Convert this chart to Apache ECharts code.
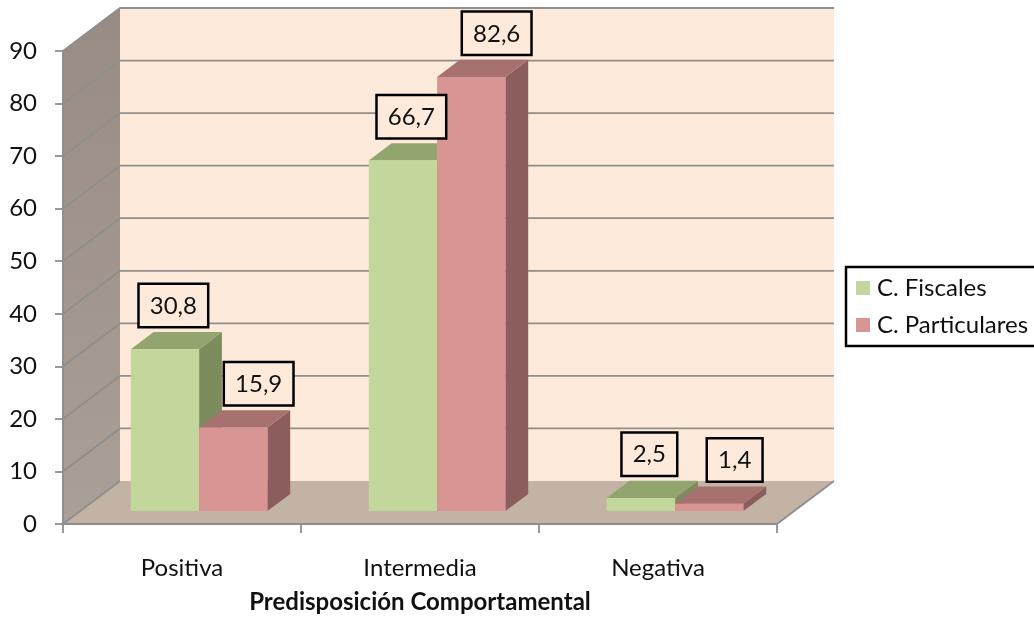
<!DOCTYPE html>
<html>
<head>
<meta charset="utf-8">
<script src="https://cdn.jsdelivr.net/npm/echarts@6/dist/echarts.min.js"></script>
<style>
  html, body { margin: 0; padding: 0; background: #fff; }
  #chart { width: 1034px; height: 619px; }
</style>
</head>
<body>
<div id="chart"></div>
<script>
// Categories and values (percentages)
const categories = ['Positiva', 'Intermedia', 'Negativa'];
const fiscales = [30.8, 66.7, 2.5];
const particulares = [15.9, 82.6, 1.4];
const yTicks = [0, 10, 20, 30, 40, 50, 60, 70, 80, 90];
const seriesNames = ['C. Fiscales', 'C. Particulares'];

// Oblique 3D look: full depth of the plot box in pixels
const DEPTH = [57, -43];
const BAR_FRONT = 0.3;   // bars start this far back into the box
const BAR_DEPTH = 0.4;   // bar thickness as a share of the depth
const BAR_WIDTH = 0.287; // each bar's width as a share of the category band
const FONT = 'Lato, "Open Sans", sans-serif';
const WALL = '#FDEADA';
const GRID_LINE = '#8E8E8E';

const palette = [
  { front: '#C3D69B', top: '#93A56F', side: '#7C8C5C' },
  { front: '#D99594', top: '#A6716F', side: '#8B5D5C' }
];
const LABEL_SHIFT = [-3, 14];

function barGeometry(api, cat, val, slot) {
  const band = api.size([1, 0])[0];
  const base = api.coord([cat, 0]);
  const top = api.coord([cat, val]);
  const w = band * BAR_WIDTH;
  const ox = DEPTH[0] * BAR_FRONT, oy = DEPTH[1] * BAR_FRONT;
  const x0 = base[0] + (slot === 0 ? -w : 0) + ox;
  return {
    x0: x0, x1: x0 + w, w: w,
    yb: base[1] + oy, yt: top[1] + oy,
    dx: DEPTH[0] * BAR_DEPTH, dy: DEPTH[1] * BAR_DEPTH
  };
}

function barRenderer(slot) {
  const c = palette[slot];
  return function (params, api) {
    const g = barGeometry(api, api.value(0), api.value(1), slot);
    const { x0, x1, yb, yt, dx, dy } = g;
    return {
      type: 'group',
      children: [
        { type: 'polygon', shape: { points: [[x1, yb], [x1 + dx, yb + dy], [x1 + dx, yt + dy], [x1, yt]] },
          style: { fill: c.side } },
        { type: 'polygon', shape: { points: [[x0, yt], [x1, yt], [x1 + dx, yt + dy], [x0 + dx, yt + dy]] },
          style: { fill: c.top } },
        { type: 'rect', shape: { x: x0, y: yt, width: x1 - x0, height: yb - yt },
          style: { fill: c.front } }
      ]
    };
  };
}

function wallsRenderer(params, api) {
  const cs = params.coordSys;
  const L = cs.x, R = cs.x + cs.width;
  const yAt = v => api.coord([0, v])[1];
  const y0 = yAt(yTicks[0]), yTop = yAt(yTicks[yTicks.length - 1]);
  const dx = DEPTH[0], dy = DEPTH[1];
  const lineStyle = { stroke: GRID_LINE, lineWidth: 1.8, fill: null };
  const children = [
    { type: 'rect', shape: { x: L + dx, y: yTop + dy, width: R - L, height: y0 - yTop },
      style: { fill: WALL } },
    { type: 'polygon', shape: { points: [[L, y0], [L, yTop], [L + dx, yTop + dy], [L + dx, y0 + dy]] },
      style: { fill: { type: 'linear', x: 0, y: 0, x2: 0, y2: 1,
        colorStops: [{ offset: 0, color: '#988B83' }, { offset: 1, color: '#AAA098' }] } } },
    { type: 'polygon', shape: { points: [[L, y0], [R, y0], [R + dx, y0 + dy], [L + dx, y0 + dy]] },
      style: { fill: '#C3B3A4' } }
  ];
  yTicks.forEach(v => {
    if (v === 0) return;
    const y = yAt(v);
    children.push({ type: 'polyline', shape: { points: [[L, y], [L + dx, y + dy], [R + dx, y + dy]] },
      style: lineStyle });
  });
  children.push(
    { type: 'line', shape: { x1: L, y1: y0, x2: L + dx, y2: y0 + dy }, style: lineStyle },
    { type: 'line', shape: { x1: R, y1: y0, x2: R + dx, y2: y0 + dy }, style: lineStyle },
    { type: 'line', shape: { x1: L, y1: y0, x2: L, y2: yTop }, style: lineStyle },
    { type: 'line', shape: { x1: L, y1: y0, x2: R, y2: y0 }, style: lineStyle }
  );
  return { type: 'group', children: children };
}

function labelRenderer(params, api) {
  const slot = api.value(2);
  const val = api.value(1);
  const g = barGeometry(api, api.value(0), val, slot);
  return {
    type: 'text',
    style: {
      text: val.toFixed(1).replace('.', ','),
      x: g.x0 + g.w / 2 + g.dx / 2 + LABEL_SHIFT[slot],
      y: g.yt + g.dy - 6,
      align: 'center', verticalAlign: 'bottom',
      fontFamily: FONT, fontSize: 24, lineHeight: 24, fill: '#111',
      backgroundColor: WALL, borderColor: '#000', borderWidth: 2.5,
      padding: [9, 10, 8, 10]
    }
  };
}

const labelData = [];
[fiscales, particulares].forEach((arr, s) => arr.forEach((v, i) => labelData.push([i, v, s])));

const chart = echarts.init(document.getElementById('chart'), null, { renderer: 'canvas' });
chart.setOption({
  backgroundColor: '#fff',
  animation: false,
  grid: { left: 63, top: 51, width: 714, height: 477 },
  legend: {
    orient: 'vertical', left: 846, top: 267,
    data: seriesNames,
    icon: 'rect', itemWidth: 14, itemHeight: 14, itemGap: 13,
    borderColor: '#000', borderWidth: 2.5,
    padding: [9, 8, 9, 10],
    textStyle: { fontFamily: FONT, fontSize: 24, lineHeight: 24, color: '#111', padding: [0, 0, 0, 2] }
  },
  xAxis: {
    type: 'category', data: categories,
    axisLine: { lineStyle: { color: GRID_LINE, width: 1.8 } },
    axisTick: { show: true, length: 9, alignWithLabel: false, lineStyle: { color: GRID_LINE, width: 1.8 } },
    axisLabel: { margin: 32, fontFamily: FONT, fontSize: 24, color: '#111' },
    name: 'Predisposición Comportamental', nameLocation: 'middle', nameGap: 66,
    nameTextStyle: { fontFamily: FONT, fontSize: 24, fontWeight: 'bold', color: '#111' },
    splitLine: { show: false }
  },
  yAxis: {
    type: 'value', min: yTicks[0], max: yTicks[yTicks.length - 1], interval: 10,
    axisLine: { show: true, lineStyle: { color: GRID_LINE, width: 1.8 } },
    axisTick: { show: true, length: 8, lineStyle: { color: GRID_LINE, width: 1.8 } },
    axisLabel: { margin: 26, fontFamily: FONT, fontSize: 24, color: '#111', padding: [3, 0, 0, 0] },
    splitLine: { show: false }
  },
  series: [
    { type: 'custom', name: 'walls', renderItem: wallsRenderer, data: [[0, 0]], silent: true, z: 1 },
    { type: 'custom', name: seriesNames[0], renderItem: barRenderer(0), itemStyle: { color: palette[0].front },
      data: fiscales.map((v, i) => [i, v]), z: 2 },
    { type: 'custom', name: seriesNames[1], renderItem: barRenderer(1), itemStyle: { color: palette[1].front },
      data: particulares.map((v, i) => [i, v]), z: 3 },
    { type: 'custom', name: 'etiquetas', renderItem: labelRenderer, data: labelData, z: 10, silent: true }
  ]
});
</script>
</body>
</html>
